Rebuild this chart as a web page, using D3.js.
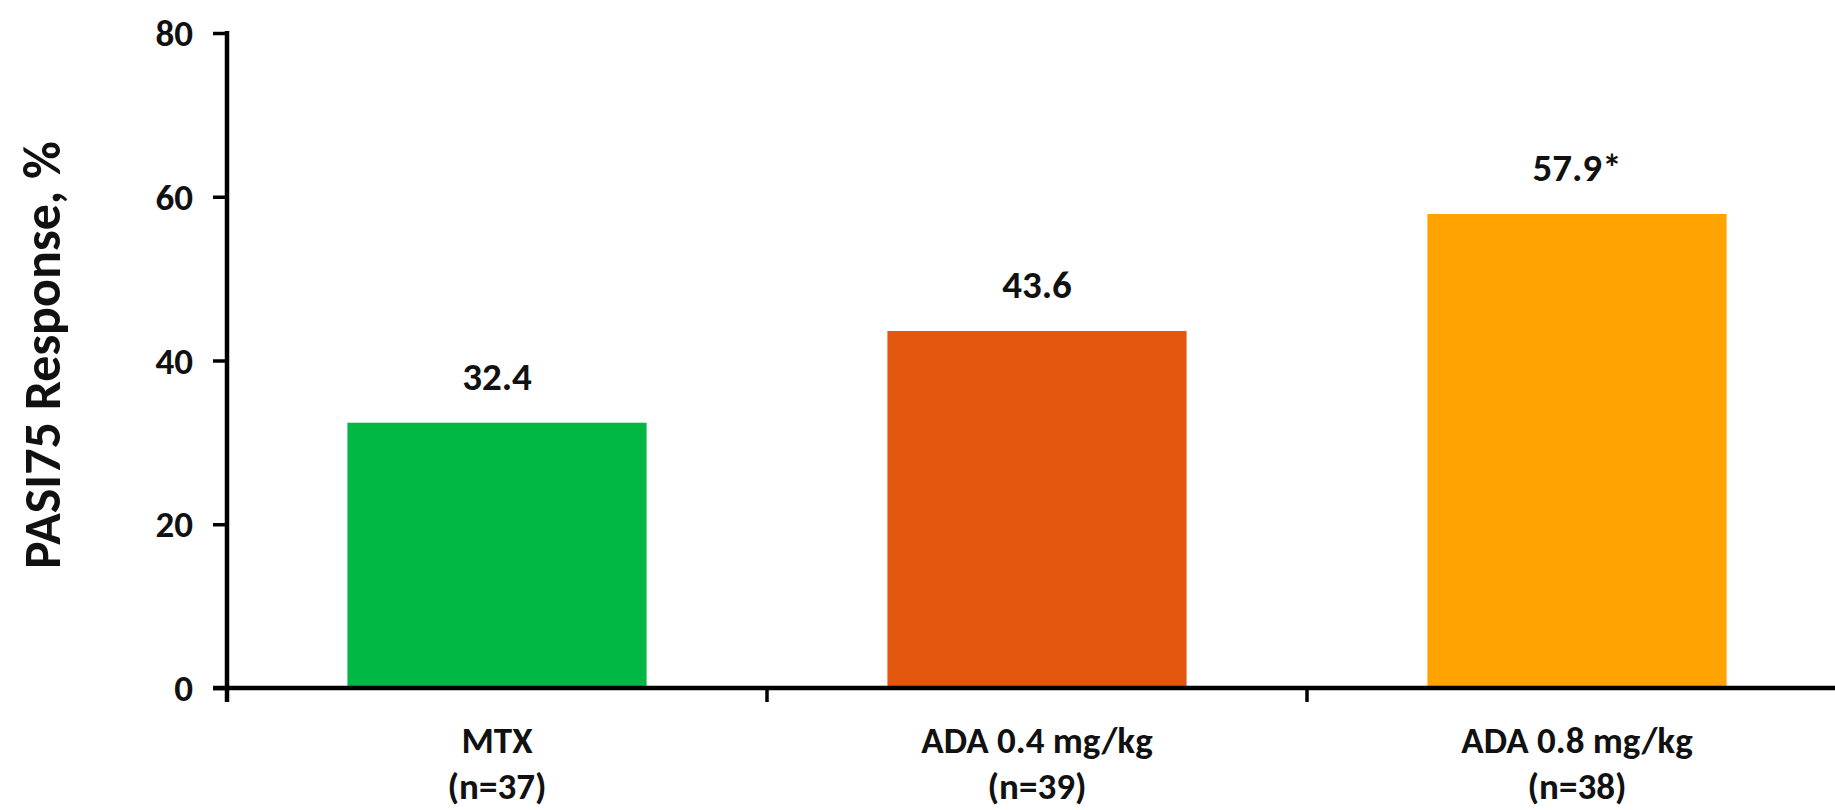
<!DOCTYPE html>
<html>
<head>
<meta charset="utf-8">
<script src="https://cdn.jsdelivr.net/npm/d3@7/dist/d3.min.js"></script>
<style>
  html, body { margin: 0; padding: 0; background: #fff; }
  svg { display: block; }
  text { font-family: Carlito, Lato, "Open Sans", sans-serif; font-weight: bold; fill: #111; }
</style>
</head>
<body>
<svg id="chart" width="1835" height="810"></svg>
<script>
// Treatment groups, PASI75 response rates and labels
const groups = ["MTX", "ADA 0.4 mg/kg", "ADA 0.8 mg/kg"];
const groupN = ["(n=37)", "(n=39)", "(n=38)"];
const response = [32.4, 43.6, 57.9];
const valueLabels = ["32.4", "43.6", "57.9*"];
const barColors = ["#00b843", "#e3560e", "#ffa300"];
const yTicks = [0, 20, 40, 60, 80];

const svg = d3.select("#chart");
const plotLeft = 227, plotRight = 1847, plotTop = 33, plotBottom = 688;

const x = d3.scaleBand()
  .domain(groups)
  .range([plotLeft, plotRight])
  .paddingInner(0.446)
  .paddingOuter(0.223);

const y = d3.scaleLinear().domain([0, 80]).range([plotBottom, plotTop]);

// Bars
svg.selectAll("rect.bar")
  .data(groups)
  .join("rect")
  .attr("class", "bar")
  .attr("x", d => x(d))
  .attr("width", x.bandwidth())
  .attr("y", (d, i) => y(response[i]))
  .attr("height", (d, i) => y(0) - y(response[i]))
  .attr("fill", (d, i) => barColors[i]);

// Value labels above bars
svg.selectAll("text.val")
  .data(groups)
  .join("text")
  .attr("class", "val")
  .attr("x", d => x(d) + x.bandwidth() / 2)
  .attr("y", (d, i) => y(response[i]) - 33)
  .attr("text-anchor", "middle")
  .style("font-size", "39px")
  .text((d, i) => valueLabels[i]);

// Y axis
const yAxis = d3.axisLeft(y).tickValues(yTicks).tickSize(14).tickPadding(20);
const gy = svg.append("g").attr("transform", `translate(${plotLeft},0)`).call(yAxis);
gy.select(".domain").attr("stroke", "#000").attr("stroke-width", 4.5).attr("d", `M0,${plotTop - 2}V${plotBottom + 14}`);
gy.selectAll(".tick line").attr("stroke", "#000").attr("stroke-width", 3.5);
gy.selectAll(".tick text").style("font-size", "37px").attr("fill", "#111").attr("dy", "0.34em");

// X axis with boundary ticks between groups
const gx = svg.append("g").attr("transform", `translate(0,${plotBottom})`);
gx.append("line")
  .attr("x1", plotLeft - 14).attr("x2", 1835)
  .attr("y1", 0).attr("y2", 0)
  .attr("stroke", "#000").attr("stroke-width", 4.5);
gx.selectAll("line.sep")
  .data(groups.slice(1))
  .join("line")
  .attr("class", "sep")
  .attr("x1", d => x(d) - x.step() * x.paddingInner() / 2)
  .attr("x2", d => x(d) - x.step() * x.paddingInner() / 2)
  .attr("y1", 0).attr("y2", 14)
  .attr("stroke", "#000").attr("stroke-width", 3.5);

// Category labels (two lines)
const cat = gx.selectAll("text.cat")
  .data(groups)
  .join("text")
  .attr("class", "cat")
  .attr("text-anchor", "middle")
  .style("font-size", "37px");
cat.append("tspan")
  .attr("x", d => x(d) + x.bandwidth() / 2)
  .attr("y", 65)
  .text(d => d);
cat.append("tspan")
  .attr("x", d => x(d) + x.bandwidth() / 2)
  .attr("y", 111)
  .text((d, i) => groupN[i]);

// Y axis title
svg.append("text")
  .attr("transform", `translate(60,355) rotate(-90)`)
  .attr("text-anchor", "middle")
  .style("font-size", "52px")
  .text("PASI75 Response, %");
</script>
</body>
</html>
